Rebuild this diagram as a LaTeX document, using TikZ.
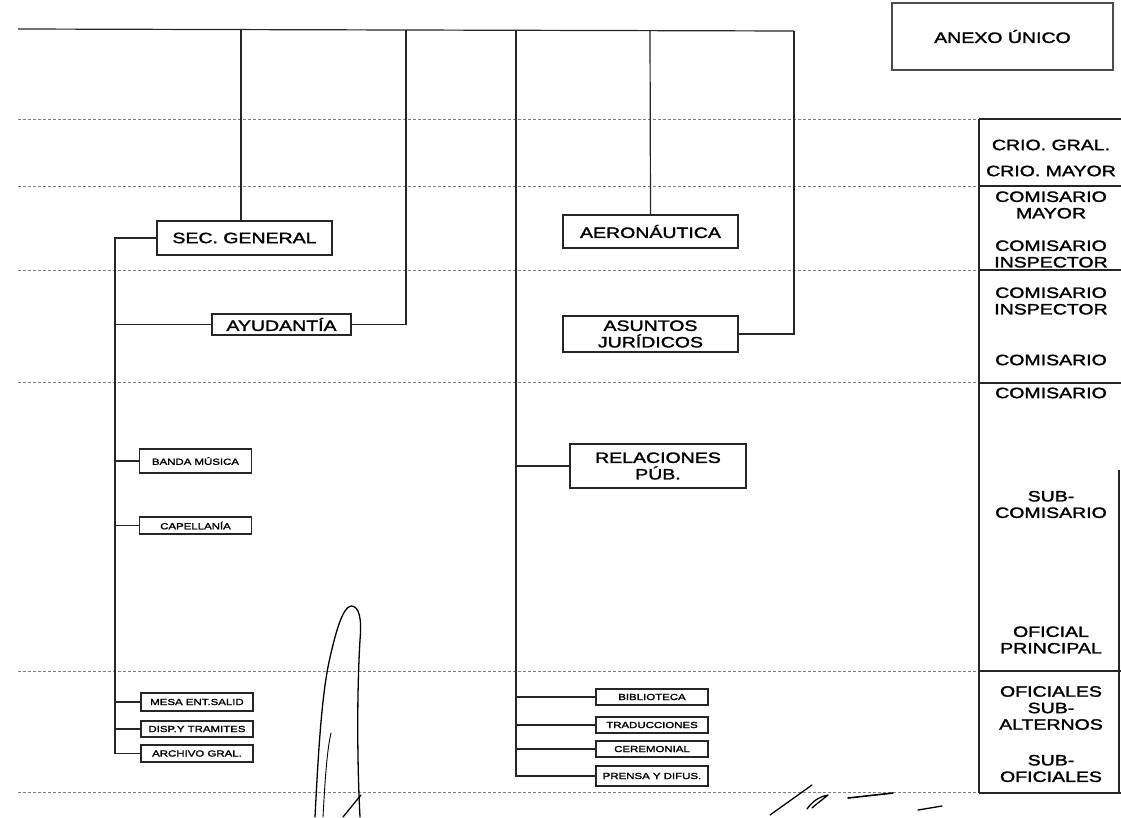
\documentclass[tikz,border=0pt]{standalone}
\usepackage{fontspec}
\newfontfamily\labfont[FakeStretch=1.3,FakeBold=1.8]{Liberation Sans}
\begin{document}
\begin{tikzpicture}[x=1pt,y=-1pt,
  box/.style={draw=black!85,line width=1.4pt,inner sep=0pt,align=center,font=\labfont\fontsize{15}{16.5}\selectfont},
  sbox/.style={draw=black!85,line width=1.2pt,inner sep=0pt,minimum width=112pt,font=\labfont\fontsize{8.8}{10}\selectfont},
  rank/.style={align=center,inner sep=0pt,font=\labfont\fontsize{15}{16.5}\selectfont},
  conn/.style={line width=1.2pt,draw=black!85},
  level/.style={draw=gray,line width=0.8pt,dash pattern=on 3pt off 2pt},
  col/.style={line width=1.3pt,draw=black!85},
  sig/.style={line width=1.3pt,line cap=round,line join=round}]
\useasboundingbox (0,0) rectangle (1121,817);

% level lines
\foreach \yy in {119,186,270,382,671,792}{
  \draw[level] (18,\yy) -- (979,\yy);
}

% title box
\node[box,line width=1.1pt,draw=black!70,minimum width=221pt,minimum height=67pt] (anexo) at (1002.5,36.5) {ANEXO ÚNICO};

% main boxes
\node[box,minimum width=175pt,minimum height=34pt] (sec) at (244.5,238) {SEC. GENERAL};
\node[box,minimum width=139pt,minimum height=21pt] (ayu) at (281.5,324.5) {AYUDANTÍA};
\node[box,minimum width=175pt,minimum height=33pt] (aero) at (650.5,231.5) {AERONÁUTICA};
\node[box,minimum width=175pt,minimum height=36pt] (asun) at (650.5,334) {ASUNTOS\\JURÍDICOS};
\node[box,minimum width=176pt,minimum height=44pt] (rel) at (658,466) {RELACIONES\\PÚB.};

% small boxes left
\node[sbox,minimum height=24pt] (banda) at (195.5,461) {BANDA MÚSICA};
\node[sbox,minimum height=17pt] (cap) at (195.5,525.5) {CAPELLANÍA};
\node[sbox,minimum height=18pt] (mesa) at (197,702) {MESA ENT.SALID};
\node[sbox,minimum height=16pt] (disp) at (197,729) {DISP.Y TRAMITES};
\node[sbox,minimum height=17pt] (arch) at (197,753.5) {ARCHIVO GRAL.};

% small boxes right
\node[sbox,minimum height=16pt] (bib) at (652,697) {BIBLIOTECA};
\node[sbox,minimum height=16pt] (trad) at (652,725) {TRADUCCIONES};
\node[sbox,minimum height=16pt] (cer) at (652,749) {CEREMONIAL};
\node[sbox,minimum height=20pt] (pren) at (652,776) {PRENSA Y DIFUS.};

% top line and drops
\coordinate (t0) at (18,29);
\coordinate (t1) at (241,30);
\coordinate (t2) at (406,30);
\coordinate (t3) at (516,30);
\coordinate (t4) at (650,30);
\coordinate (t5) at (794,31);
\draw[conn] (t0) -- (t5);
\draw[conn] (t1) -- (t1 |- sec.north);
\draw[conn] (t2) |- (ayu.east);
\draw[conn] (t4) -- (aero.north);
\draw[conn] (t5) |- (asun.east);
\draw[conn] (t3) |- (pren.west);
\foreach \n in {rel,bib,trad,cer}{
  \draw[conn] (\n.west) -- (\n.west -| t3);
}

% left trunk
\coordinate (lt) at (115,238);
\draw[conn] (sec.west) -- (lt) |- (arch.west);
\foreach \n in {ayu,banda,cap,mesa,disp}{
  \draw[conn] (\n.west) -- (\n.west -| lt);
}

% rank column
\coordinate (c0) at (979,119);
\coordinate (c1) at (979,793);
\draw[col] (c0) -- (c1);
\foreach \yy in {119,186,270,383,671,793}{
  \draw[col] (979,\yy) -- (1121,\yy);
}
\draw[col] (1119,470) -- (1119,793);

\node[rank] (r1) at (1051,145) {CRIO. GRAL.};
\node[rank] (r2) at (1051,171) {CRIO. MAYOR};
\node[rank] (r3) at (1051,205) {COMISARIO\\MAYOR};
\node[rank] (r4) at (1051,254) {COMISARIO\\INSPECTOR};
\node[rank] (r5) at (1051,301) {COMISARIO\\INSPECTOR};
\node[rank] (r6) at (1051,360) {COMISARIO};
\node[rank] (r7) at (1051,393) {COMISARIO};
\node[rank] (r8) at (1051,504.5) {SUB-\\COMISARIO};
\node[rank] (r9) at (1051,640) {OFICIAL\\PRINCIPAL};
\node[rank] (r10) at (1051,708) {OFICIALES\\SUB-\\ALTERNOS};
\node[rank] (r11) at (1051,768.5) {SUB-\\OFICIALES};

% signatures
\draw[sig] (315,817) .. controls (318,760) and (321,700) .. (329,662)
  .. controls (336,630) and (343,607) .. (351,606)
  .. controls (359,606) and (362,618) .. (360,640)
  .. controls (357,690) and (357,760) .. (360,817);
\draw[sig,line width=0.9pt] (323,817) .. controls (325,780) and (327,750) .. (331,733);
\draw[sig] (343,817) -- (361,795);
\draw[sig] (770,815) -- (812,785);
\draw[sig] (807,809) .. controls (812,802) and (818,797) .. (828,795) .. controls (822,800) and (815,805) .. (812,808);
\draw[sig,line width=1.6pt] (848,798) -- (893,793);
\draw[sig] (918,810) -- (942,806);
\end{tikzpicture}
\end{document}
